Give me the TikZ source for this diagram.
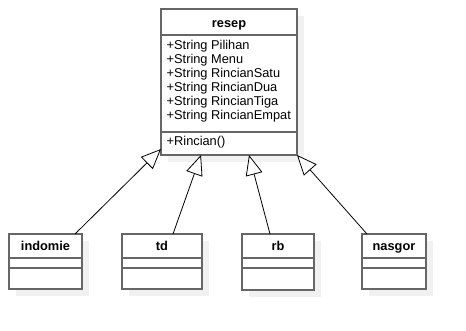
\documentclass[tikz,border=0pt]{standalone}
\usepackage{fontspec}
\setmainfont{Liberation Sans}
\usetikzlibrary{shadows,arrows.meta,calc}
\definecolor{frame}{HTML}{666666}
\definecolor{shade}{HTML}{F1F1F1}
\tikzset{
  classbox/.style={draw=frame, line width=1.3pt, fill=white, anchor=north west,
    inner sep=0pt, outer sep=0pt,
    drop shadow={shadow xshift=7pt, shadow yshift=-7pt, fill=shade, opacity=1}},
  divider/.style={draw=frame, line width=1.3pt},
  classname/.style={font=\fontsize{12.8}{14}\selectfont\bfseries, anchor=base, inner sep=0pt},
  member/.style={font=\fontsize{12.8}{14}\selectfont, anchor=base west, inner sep=0pt},
  extends/.style={-{Triangle[open, length=20pt, width=17pt, fill=white]}, line width=0.8pt, black}
}
\begin{document}
\begin{tikzpicture}[x=1pt, y=-1pt]
  \useasboundingbox (0,0) rectangle (466,331);

  % parent class
  \node[classbox, minimum width=136pt, minimum height=146pt] (resep) at (161,9) {};
  \draw[divider] (161,35) -- (297,35);
  \draw[divider] (161,132) -- (297,132);
  \node[classname] (resep-title) at (229,27.5) {resep};
  \node[member] (m1) at (166.5,50) {+String Pilihan};
  \node[member] (m2) at (166.5,64) {+String Menu};
  \node[member] (m3) at (166.5,78) {+String RincianSatu};
  \node[member] (m4) at (166.5,92) {+String RincianDua};
  \node[member] (m5) at (166.5,106) {+String RincianTiga};
  \node[member] (m6) at (166.5,120) {+String RincianEmpat};
  \node[member] (op1) at (166.5,146) {+Rincian()};

  % subclasses
  \node[classbox, minimum width=73pt, minimum height=55pt] (indomie) at (9,234) {};
  \node[classbox, minimum width=80pt, minimum height=55pt] (td) at (122,234) {};
  \node[classbox, minimum width=72pt, minimum height=56pt] (rb) at (242,234) {};
  \node[classbox, minimum width=64pt, minimum height=55pt] (nasgor) at (362,234) {};

  \foreach \x/\w in {9/73, 122/80, 242/72, 362/64} {
    \draw[divider] (\x,258) -- ++(\w,0);
    \draw[divider] (\x,268) -- ++(\w,0);
  }
  \node[classname] (indomie-title) at (45.5,251) {indomie};
  \node[classname] (td-title) at (162,251) {td};
  \node[classname] (rb-title) at (278,251) {rb};
  \node[classname] (nasgor-title) at (394,251) {nasgor};

  % generalisation arrows
  \draw[extends] ($(indomie.north west)+(66,0)$) -- ($(resep.south west)+(0,-6)$);
  \draw[extends] ($(td.north west)+(51,0)$) -- ($(resep.south west)+(40,0)$);
  \draw[extends] ($(rb.north west)+(28,0)$) -- ($(resep.south west)+(88,0)$);
  \draw[extends] ($(nasgor.north west)+(5,0)$) -- (resep.south east);
\end{tikzpicture}
\end{document}
